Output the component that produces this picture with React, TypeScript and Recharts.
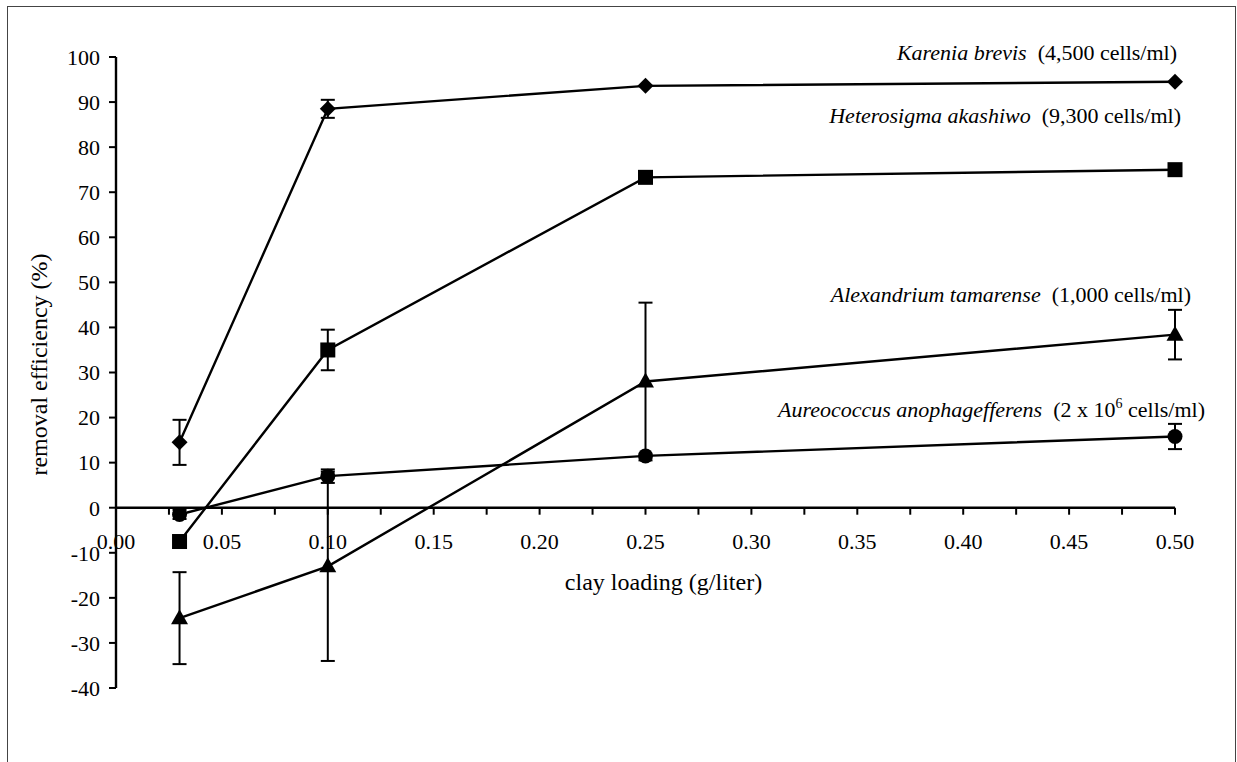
import React from 'react';
import {
  ComposedChart,
  Line,
  XAxis,
  YAxis,
  ErrorBar,
  ReferenceLine,
  ReferenceDot,
  LabelList,
  Label,
} from 'recharts';

// ---- data ----
const clayLoading = [0.03, 0.1, 0.25, 0.5];

const kareniaValues = [14.5, 88.5, 93.6, 94.5];
const kareniaErrors = [5, 2, 0, 0];

const heterosigmaValues = [-7.5, 35, 73.3, 75];
const heterosigmaErrors = [0, 4.5, 0, 0];

const alexandriumValues = [-24.5, -13, 28, 38.4];
const alexandriumErrors = [10.2, 21, 17.5, 5.5];

const aureococcusValues = [-1.5, 7, 11.5, 15.8];
const aureococcusErrors = [1, 1.5, 0, 2.8];

const xTickValues = [
  0, 0.025, 0.05, 0.075, 0.1, 0.125, 0.15, 0.175, 0.2, 0.225, 0.25,
  0.275, 0.3, 0.325, 0.35, 0.375, 0.4, 0.425, 0.45, 0.475, 0.5,
];
const xTickLabels = [
  '0.00', '', '0.05', '', '0.10', '', '0.15', '', '0.20', '', '0.25',
  '', '0.30', '', '0.35', '', '0.40', '', '0.45', '', '0.50',
];
const yTickValues = [-40, -30, -20, -10, 0, 10, 20, 30, 40, 50, 60, 70, 80, 90, 100];

const FONT = '"Liberation Serif", "Times New Roman", serif';
const SW = 2.4;

const build = (vals: number[], errs: number[]) =>
  clayLoading.map((x, i) => ({ x, y: vals[i], err: errs[i] }));

const kareniaData = build(kareniaValues, kareniaErrors);
const heterosigmaData = build(heterosigmaValues, heterosigmaErrors);
const alexandriumData = build(alexandriumValues, alexandriumErrors);
const aureococcusData = build(aureococcusValues, aureococcusErrors);

// ---- markers ----
const Diamond = (p: any) => {
  const { cx, cy } = p;
  if (cx == null || cy == null) return <g />;
  return (
    <polygon
      points={`${cx},${cy - 8} ${cx + 8},${cy} ${cx},${cy + 8} ${cx - 8},${cy}`}
      fill="#000"
    />
  );
};
const Square = (p: any) => {
  const { cx, cy } = p;
  if (cx == null || cy == null) return <g />;
  return <rect x={cx - 7.5} y={cy - 7.5} width={15} height={15} fill="#000" />;
};
const Triangle = (p: any) => {
  const { cx, cy } = p;
  if (cx == null || cy == null) return <g />;
  return (
    <polygon
      points={`${cx},${cy - 9} ${cx + 8.5},${cy + 6} ${cx - 8.5},${cy + 6}`}
      fill="#000"
    />
  );
};
const Circle = (p: any) => {
  const { cx, cy } = p;
  if (cx == null || cy == null) return <g />;
  return <circle cx={cx} cy={cy} r={7.5} fill="#000" />;
};

// ---- series annotations ----
const makeSeriesLabel =
  (italic: string, rest: React.ReactNode, dx: number, dy: number) => (props: any) => {
    const { x, y, index } = props;
    if (index !== clayLoading.length - 1) return null;
    return (
      <text
        x={x + dx}
        y={y + dy}
        textAnchor="end"
        fontFamily={FONT}
        fontSize={22}
        fill="#000"
      >
        <tspan fontStyle="italic">{italic}</tspan>
        {rest}
      </text>
    );
  };

const kareniaLabel = makeSeriesLabel(
  'Karenia brevis',
  <tspan>{'\u00a0\u00a0(4,500 cells/ml)'}</tspan>,
  2,
  -22
);
const heterosigmaLabel = makeSeriesLabel(
  'Heterosigma akashiwo',
  <tspan>{'\u00a0\u00a0(9,300 cells/ml)'}</tspan>,
  6,
  -47
);
const alexandriumLabel = makeSeriesLabel(
  'Alexandrium tamarense',
  <tspan>{'\u00a0\u00a0(1,000 cells/ml)'}</tspan>,
  16,
  -33
);
const aureococcusLabel = makeSeriesLabel(
  'Aureococcus anophagefferens',
  <>
    <tspan>{'\u00a0\u00a0(2 x 10'}</tspan>
    <tspan fontSize={14} dy={-9}>
      6
    </tspan>
    <tspan dy={9}>{'\u00a0cells/ml)'}</tspan>
  </>,
  30,
  -20
);

// ---- x axis ticks drawn at y = 0 ----
const makeXTick = (label: string) => (p: any) => {
  const { cx, cy } = p;
  if (cx == null || cy == null) return <g />;
  return (
    <g>
      <line x1={cx} y1={cy} x2={cx} y2={cy + 7} stroke="#000" strokeWidth={2} />
      {label ? (
        <text
          x={cx}
          y={cy + 41}
          textAnchor="middle"
          fontFamily={FONT}
          fontSize={22}
          fill="#000"
        >
          {label}
        </text>
      ) : null}
    </g>
  );
};

const xTitle = (props: any) => {
  const vb = props.viewBox || {};
  const x = (vb.x ?? 116) + (vb.width ?? 1059) / 2 + 18;
  const y = (vb.y ?? 508) + 82;
  return (
    <text x={x} y={y} textAnchor="middle" fontFamily={FONT} fontSize={24} fill="#000">
      clay loading (g/liter)
    </text>
  );
};

const yTitle = (props: any) => {
  const vb = props.viewBox || {};
  const cx = 39;
  const cy = (vb.y ?? 57) + (vb.height ?? 631) / 2 - 8;
  return (
    <text
      x={cx}
      y={cy}
      transform={`rotate(-90, ${cx}, ${cy})`}
      textAnchor="middle"
      dy="0.35em"
      fontFamily={FONT}
      fontSize={24}
      fill="#000"
    >
      removal efficiency (%)
    </text>
  );
};

export default function App() {
  return (
    <div
      style={{
        position: 'absolute',
        left: 0,
        top: 0,
        width: 1237,
        height: 762,
        overflow: 'hidden',
        background: '#fff',
      }}
    >
      <div
        style={{
          position: 'absolute',
          left: 7,
          top: 6,
          width: 1227,
          height: 800,
          border: '1px solid #444',
          pointerEvents: 'none',
        }}
      />
      <div style={{ position: 'absolute', left: 0, top: 0 }}>
        <ComposedChart
          width={1237}
          height={762}
          margin={{ top: 57, right: 62, bottom: 74, left: 0 }}
        >
          <XAxis
            type="number"
            dataKey="x"
            domain={[0, 0.5]}
            ticks={xTickValues}
            hide
            allowDuplicatedCategory={false}
          />
          <YAxis
            type="number"
            domain={[-40, 100]}
            ticks={yTickValues}
            width={116}
            interval={0}
            axisLine={{ stroke: '#000', strokeWidth: SW }}
            tickLine={{ stroke: '#000', strokeWidth: 2 }}
            tickSize={7}
            tickMargin={9}
            tick={{ fontFamily: FONT, fontSize: 22, fill: '#000' }}
          >
            <Label content={yTitle} />
          </YAxis>

          <ReferenceLine y={0} stroke="#000" strokeWidth={SW} label={xTitle} />
          {xTickValues.map((v, i) => (
            <ReferenceDot
              key={`xt-${i}`}
              x={v}
              y={0}
              r={0}
              ifOverflow="visible"
              shape={makeXTick(xTickLabels[i])}
            />
          ))}

          <Line
            data={kareniaData}
            dataKey="y"
            stroke="#000"
            strokeWidth={SW}
            dot={Diamond}
            activeDot={false}
            isAnimationActive={false}
          >
            <ErrorBar dataKey="err" width={7} stroke="#000" strokeWidth={2} direction="y" />
            <LabelList dataKey="y" content={kareniaLabel} />
          </Line>
          <Line
            data={heterosigmaData}
            dataKey="y"
            stroke="#000"
            strokeWidth={SW}
            dot={Square}
            activeDot={false}
            isAnimationActive={false}
          >
            <ErrorBar dataKey="err" width={7} stroke="#000" strokeWidth={2} direction="y" />
            <LabelList dataKey="y" content={heterosigmaLabel} />
          </Line>
          <Line
            data={alexandriumData}
            dataKey="y"
            stroke="#000"
            strokeWidth={SW}
            dot={Triangle}
            activeDot={false}
            isAnimationActive={false}
          >
            <ErrorBar dataKey="err" width={7} stroke="#000" strokeWidth={2} direction="y" />
            <LabelList dataKey="y" content={alexandriumLabel} />
          </Line>
          <Line
            data={aureococcusData}
            dataKey="y"
            stroke="#000"
            strokeWidth={SW}
            dot={Circle}
            activeDot={false}
            isAnimationActive={false}
          >
            <ErrorBar dataKey="err" width={7} stroke="#000" strokeWidth={2} direction="y" />
            <LabelList dataKey="y" content={aureococcusLabel} />
          </Line>
        </ComposedChart>
      </div>
    </div>
  );
}
